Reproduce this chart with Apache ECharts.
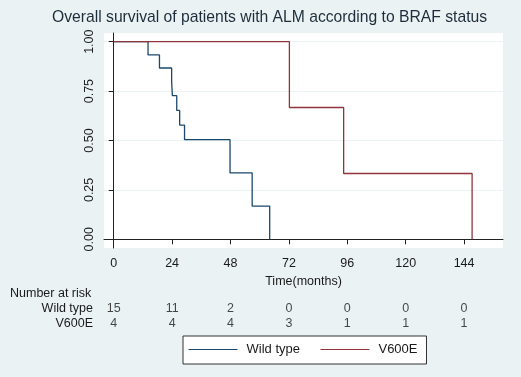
<!DOCTYPE html>
<html style="height: 100%">
<head>
    <meta charset="utf-8">
</head>
<body style="height: 100%; margin: 0">
<div id="container" style="width: 521px; height: 377px"></div>
<script type="text/javascript" src="https://cdn.jsdelivr.net/npm/echarts@6/dist/echarts.min.js"></script>
<script type="text/javascript">
    var dom = document.getElementById("container");
    var myChart = echarts.init(dom);
    var option;

    // Kaplan-Meier steps: [months, survival]
    var wildType = [[0, 1], [14.1, 0.933], [18.8, 0.867], [23.8, 0.8], [24.1, 0.727],
        [25.9, 0.652], [27.1, 0.578], [29.1, 0.504], [47.8, 0.336], [56.9, 0.168], [64.1, 0]];
    var v600e = [[0, 1], [72.2, 0.667], [94.5, 0.333], [147.3, 0]];

    var xTicks = [0, 24, 48, 72, 96, 120, 144];
    var yTicks = [0, 0.25, 0.5, 0.75, 1];

    var groups = ['Wild type', 'V600E'];
    var riskWild = [15, 11, 2, 0, 0, 0, 0];
    var riskV600e = [4, 4, 4, 3, 1, 1, 1];

    var font = 'Liberation Sans, Arial, sans-serif';
    var txt = '#1a1a1a';
    var fs = 12.5;

    var riskData = [];
    xTicks.forEach(function (t, i) {
        riskData.push([t, groups[0], riskWild[i]]);
        riskData.push([t, groups[1], riskV600e[i]]);
    });

    option = {
        backgroundColor: '#eaf2f3',
        animation: false,
        title: {
            text: 'Overall survival of patients with ALM according to BRAF status',
            left: 47,
            top: 5,
            textStyle: {fontFamily: font, fontSize: 15.7, fontWeight: 'normal', color: '#1e2d3b'}
        },
        graphic: [{
            type: 'text',
            left: 10,
            top: 287,
            style: {text: 'Number at risk', font: fs + 'px ' + font, fill: txt}
        }],
        legend: {
            left: 183,
            top: 336,
            data: groups,
            backgroundColor: '#fff',
            borderColor: '#333',
            borderWidth: 1,
            borderRadius: 0,
            padding: [6, 9, 7, 5],
            itemWidth: 49,
            itemHeight: 1,
            itemGap: 20,
            lineStyle: {width: 1},
            textStyle: {fontFamily: font, fontSize: 13, lineHeight: 15, color: txt, padding: [0, 0, 0, 4]}
        },
        grid: [{
            left: 104, right: 18, top: 33, bottom: 129,
            show: true, backgroundColor: '#fff', borderWidth: 0
        }, {
            left: 104, right: 18, top: 301, height: 30
        }],
        xAxis: [{
            gridIndex: 0,
            type: 'value',
            min: -4,
            max: 160,
            name: 'Time(months)',
            nameLocation: 'middle',
            nameGap: 25,
            nameTextStyle: {fontFamily: font, fontSize: fs, color: txt},
            axisLine: {lineStyle: {color: '#222'}},
            axisTick: {customValues: xTicks, length: 5, lineStyle: {color: '#222'}},
            axisLabel: {customValues: xTicks, margin: 9, fontFamily: font, fontSize: fs, color: txt},
            splitLine: {show: false}
        }, {
            gridIndex: 1,
            type: 'value',
            min: -4,
            max: 160,
            show: false
        }],
        yAxis: [{
            gridIndex: 0,
            type: 'value',
            min: -0.044,
            max: 1.044,
            axisLine: {show: true, lineStyle: {color: '#222'}},
            axisTick: {show: true, customValues: yTicks, length: 5, lineStyle: {color: '#222'}},
            axisLabel: {
                customValues: yTicks, rotate: 90, margin: 8,
                fontFamily: font, fontSize: fs, color: txt,
                formatter: function (v) { return v.toFixed(2); }
            },
            splitLine: {show: true, lineStyle: {color: '#eaf2f3', width: 1}}
        }, {
            gridIndex: 1,
            type: 'category',
            data: groups,
            inverse: true,
            axisLine: {show: false},
            axisTick: {show: false},
            axisLabel: {interval: 0, margin: 11, fontFamily: font, fontSize: fs, color: txt}
        }],
        series: [{
            name: groups[0],
            type: 'line',
            step: 'end',
            data: wildType,
            symbol: 'none',
            z: 3,
            color: '#1a476f',
            lineStyle: {color: '#1a476f', width: 1.3}
        }, {
            name: groups[1],
            type: 'line',
            step: 'end',
            data: v600e,
            symbol: 'none',
            z: 3,
            color: '#90353b',
            lineStyle: {color: '#90353b', width: 1.3}
        }, {
            type: 'scatter',
            xAxisIndex: 1,
            yAxisIndex: 1,
            data: riskData,
            symbolSize: 0,
            silent: true,
            label: {
                show: true,
                position: 'inside',
                formatter: function (p) { return p.value[2]; },
                fontFamily: font, fontSize: fs, color: txt
            }
        }]
    };

    if (option && typeof option === "object") {
        myChart.setOption(option, true);
    }
</script>
</body>
</html>
